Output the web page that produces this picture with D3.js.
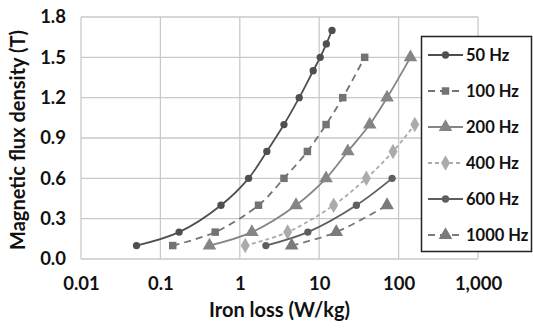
<!DOCTYPE html>
<html>
<head>
<meta charset="utf-8">
<script src="https://cdn.jsdelivr.net/npm/d3@7"></script>
<style>
  body { margin: 0; background: #fff; }
  text { font-family: Lato, "Open Sans", sans-serif; font-weight: bold; fill: #111; }
</style>
</head>
<body>
<div id="chart"></div>
<script>
// flux density levels (T) and iron loss (W/kg)
var seriesNames = ["50 Hz", "100 Hz", "200 Hz", "400 Hz", "600 Hz", "1000 Hz"];
var b50 = [0.1, 0.2, 0.4, 0.6, 0.8, 1.0, 1.2, 1.4, 1.5, 1.6, 1.7];
var loss50 = [0.05, 0.172, 0.58, 1.29, 2.19, 3.6, 5.6, 8.4, 10.3, 12.3, 14.5];
var b100 = [0.1, 0.2, 0.4, 0.6, 0.8, 1.0, 1.2, 1.5];
var loss100 = [0.143, 0.49, 1.72, 3.6, 7.1, 12.2, 19.8, 37.4];
var b200 = [0.1, 0.2, 0.4, 0.6, 0.8, 1.0, 1.2, 1.5];
var loss200 = [0.415, 1.42, 5.1, 12.2, 22.9, 43.3, 71.6, 141];
var b400 = [0.1, 0.2, 0.4, 0.6, 0.8, 1.0];
var loss400 = [1.17, 4.0, 15.2, 39.3, 85, 160];
var b600 = [0.1, 0.2, 0.4, 0.6];
var loss600 = [2.13, 7.2, 29.4, 82.8];
var b1000 = [0.1, 0.2, 0.4];
var loss1000 = [4.5, 16.4, 71.6];

var xTicks = [0.01, 0.1, 1, 10, 100, 1000];
var yTicks = [0, 0.3, 0.6, 0.9, 1.2, 1.5, 1.8];

var styles = [
  {color: "#4f4f4f", dash: null, marker: "circle"},
  {color: "#737373", dash: "7,5", marker: "square"},
  {color: "#858585", dash: null, marker: "triangle"},
  {color: "#ababab", dash: "4,3", marker: "diamond"},
  {color: "#5e5e5e", dash: null, marker: "circle"},
  {color: "#7a7a7a", dash: "7,5", marker: "triangle"}
];
var bs = [b50, b100, b200, b400, b600, b1000];
var losses = [loss50, loss100, loss200, loss400, loss600, loss1000];
var series = seriesNames.map(function(n, i) {
  return {name: n, style: styles[i], pts: bs[i].map(function(b, j) { return {x: losses[i][j], y: b}; })};
});

var W = 533, H = 329;
var m = {top: 17, right: 55, bottom: 70, left: 81};
var svg = d3.select("#chart").append("svg").attr("width", W).attr("height", H);

var x = d3.scaleLog().domain([0.01, 1000]).range([m.left, W - m.right]);
var y = d3.scaleLinear().domain([0, 1.8]).range([H - m.bottom, m.top]);

// grid
var grid = svg.append("g");
grid.selectAll(".gx").data(xTicks).enter().append("line")
  .attr("x1", function(d) { return x(d); }).attr("x2", function(d) { return x(d); })
  .attr("y1", y(0)).attr("y2", y(1.8))
  .attr("stroke", "#c9c9c9").attr("stroke-width", 1.3);
grid.selectAll(".gy").data(yTicks).enter().append("line")
  .attr("y1", function(d) { return y(d); }).attr("y2", function(d) { return y(d); })
  .attr("x1", x(0.01)).attr("x2", x(1000))
  .attr("stroke", "#c9c9c9").attr("stroke-width", 1.3);

// axes
var xAxis = d3.axisBottom(x).tickValues(xTicks).tickSize(0).tickPadding(18)
  .tickFormat(function(d) { return d >= 1000 ? d3.format(",")(d) : String(d); });
var gx = svg.append("g").attr("transform", "translate(0," + y(0) + ")").call(xAxis);
gx.select(".domain").remove();
gx.selectAll("text").style("font-size", "18.5px");

var yAxis = d3.axisLeft(y).tickValues(yTicks).tickSize(0).tickPadding(15).tickFormat(d3.format(".1f"));
var gy = svg.append("g").attr("transform", "translate(" + x(0.01) + ",0)").call(yAxis);
gy.select(".domain").remove();
gy.selectAll("text").style("font-size", "18.5px");

svg.append("text").attr("x", (x(0.01) + x(1000)) / 2).attr("y", 317)
  .attr("text-anchor", "middle").style("font-size", "20px").text("Iron loss (W/kg)");
svg.append("text").attr("transform", "translate(25," + 140 + ") rotate(-90)")
  .attr("text-anchor", "middle").style("font-size", "20px").text("Magnetic flux density (T)");

var symbolFor = {
  circle: d3.symbol().type(d3.symbolCircle).size(42),
  square: d3.symbol().type(d3.symbolSquare).size(56),
  triangle: d3.symbol().type(d3.symbolTriangle).size(80),
  diamond: d3.symbol().type(d3.symbolDiamond).size(70)
};

var line = d3.line().x(function(d) { return x(d.x); }).y(function(d) { return y(d.y); })
  .curve(d3.curveCatmullRom.alpha(0.5));

var gs = svg.append("g").selectAll("g").data(series).enter().append("g");
gs.append("path").attr("d", function(d) { return line(d.pts); })
  .attr("fill", "none")
  .attr("stroke", function(d) { return d.style.color; })
  .attr("stroke-width", 1.8)
  .attr("stroke-dasharray", function(d) { return d.style.dash; });
gs.selectAll(".pt").data(function(d) { return d.pts.map(function(p) { return {p: p, s: d.style}; }); })
  .enter().append("path")
  .attr("transform", function(d) { return "translate(" + x(d.p.x) + "," + y(d.p.y) + ")"; })
  .attr("d", function(d) { return symbolFor[d.s.marker](); })
  .attr("fill", function(d) { return d.s.color; });

// legend
var lg = svg.append("g");
lg.append("rect").attr("x", 421.5).attr("y", 36.5).attr("width", 110).attr("height", 215)
  .attr("fill", "#fff").attr("stroke", "#222").attr("stroke-width", 1.5);
var items = lg.selectAll(".li").data(series).enter().append("g")
  .attr("transform", function(d, i) { return "translate(428," + (55 + i * 36) + ")"; });
items.append("line").attr("x1", 0).attr("x2", 35).attr("y1", 0).attr("y2", 0)
  .attr("stroke", function(d) { return d.style.color; }).attr("stroke-width", 1.8)
  .attr("stroke-dasharray", function(d) { return d.style.dash; });
items.append("path").attr("transform", "translate(17.5,0)")
  .attr("d", function(d) { return symbolFor[d.style.marker](); })
  .attr("fill", function(d) { return d.style.color; });
items.append("text").attr("x", 38).attr("dy", "0.35em").style("font-size", "16.5px")
  .text(function(d) { return d.name; });
</script>
</body>
</html>
